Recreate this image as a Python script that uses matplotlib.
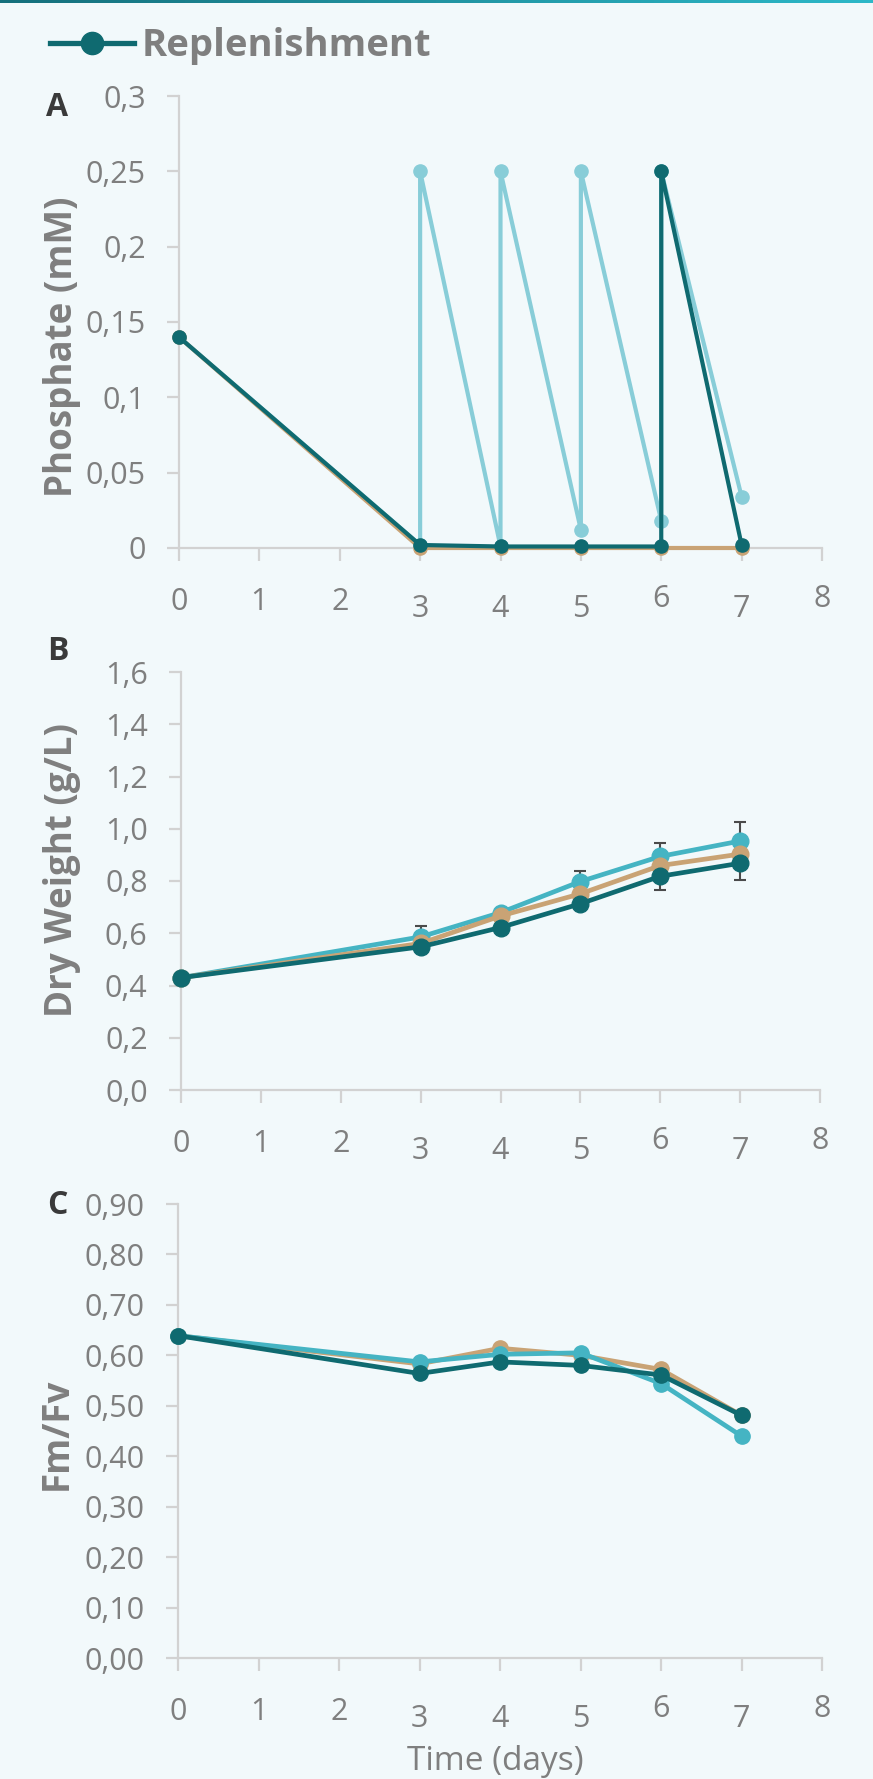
import matplotlib
matplotlib.use("Agg")
import matplotlib.pyplot as plt
import matplotlib.transforms as mtransforms
from matplotlib.lines import Line2D
from matplotlib.colors import LinearSegmentedColormap
import numpy as np

# ---------------- data ----------------
# Panel A: phosphate (mM)
days_a_replen = [0, 3, 4, 5, 6, 6, 7]
phos_replen = [0.14, 0.002, 0.001, 0.001, 0.001, 0.25, 0.002]
days_a_pulse = [0, 3, 3, 4, 4, 5, 5, 6, 6, 7]
phos_pulse = [0.14, 0.002, 0.25, 0.001, 0.25, 0.012, 0.25, 0.018, 0.25, 0.034]
days_a_ctrl = [0, 3, 4, 5, 6, 7]
phos_ctrl = [0.14, 0.0, 0.0, 0.0, 0.0, 0.0]

# Panels B and C share the sampling days
days = [0, 3, 4, 5, 6, 7]
# Panel B: dry weight (g/L)
dw_pulse = [0.43, 0.586, 0.679, 0.798, 0.894, 0.953]
dw_ctrl = [0.43, 0.561, 0.666, 0.751, 0.859, 0.903]
dw_replen = [0.43, 0.548, 0.622, 0.713, 0.818, 0.868]
dw_pulse_err = [0.0, 0.040, 0.010, 0.040, 0.050, 0.074]
dw_ctrl_err = [0.0, 0.020, 0.010, 0.020, 0.030, 0.030]
dw_replen_err = [0.0, 0.020, 0.010, 0.010, 0.054, 0.065]
# Panel C: Fm/Fv
fv_pulse = [0.639, 0.587, 0.602, 0.605, 0.544, 0.440]
fv_ctrl = [0.639, 0.583, 0.614, 0.600, 0.572, 0.481]
fv_replen = [0.639, 0.564, 0.587, 0.580, 0.561, 0.481]

x_ticks = [0, 1, 2, 3, 4, 5, 6, 7, 8]
x_ticklabels = ["0", "1", "2", "3", "4", "5", "6", "7", "8"]
a_yticks = [0, 0.05, 0.1, 0.15, 0.2, 0.25, 0.3]
a_yticklabels = ["0", "0,05", "0,1", "0,15", "0,2", "0,25", "0,3"]
b_yticks = [0, 0.2, 0.4, 0.6, 0.8, 1.0, 1.2, 1.4, 1.6]
b_yticklabels = ["0,0", "0,2", "0,4", "0,6", "0,8", "1,0", "1,2", "1,4", "1,6"]
c_yticks = [0, 0.1, 0.2, 0.3, 0.4, 0.5, 0.6, 0.7, 0.8, 0.9]
c_yticklabels = ["0,00", "0,10", "0,20", "0,30", "0,40", "0,50", "0,60", "0,70", "0,80", "0,90"]

legend_label = "Replenishment"
ylabels = ["Phosphate (mM)", "Dry Weight (g/L)", "Fm/Fv"]
panel_letters = ["A", "B", "C"]
xlabel = "Time (days)"

# ---------------- style ----------------
BG = "#F2F9FB"
DARK = "#0F6A70"
LIGHT_A = "#88CDD8"
CYAN = "#45B4C3"
TAN = "#C9A375"
GRID = "#D2D2D2"
TXT = "#7F7F7F"
FONT = ["Open Sans", "DejaVu Sans"]
plt.rcParams["font.family"] = FONT

W, H = 873, 1779
fig = plt.figure(figsize=(W / 100, H / 100), dpi=100, facecolor=BG)


def px_rect(left, right, top, bottom):
    return [left / W, 1 - bottom / H, (right - left) / W, (bottom - top) / H]


def style_axes(ax, yticks, yticklabels, ylim):
    ax.set_facecolor(BG)
    for s in ("top", "right"):
        ax.spines[s].set_visible(False)
    for s in ("left", "bottom"):
        ax.spines[s].set_color(GRID)
        ax.spines[s].set_linewidth(1.6)
    ax.set_xlim(0, 8)
    ax.set_ylim(*ylim)
    ax.set_xticks(x_ticks, x_ticklabels)
    ax.set_yticks(yticks, yticklabels)
    ax.tick_params(axis="both", direction="out", length=9, width=1.6,
                   color=GRID, labelcolor=TXT, labelsize=22)
    ax.tick_params(axis="y", pad=15)
    ax.tick_params(axis="x", pad=19)
    # mimic old-style figures: descending / ascending digits
    for lab in ax.get_xticklabels():
        t = lab.get_text()
        dy = 0.0
        if t in ("3", "4", "5", "7"):
            dy = -0.07
        elif t in ("6", "8"):
            dy = 0.025
        if dy:
            lab.set_transform(lab.get_transform() +
                              mtransforms.ScaledTranslation(0, dy, fig.dpi_scale_trans))


# ---------------- panel A ----------------
axA = fig.add_axes(px_rect(179, 822, 96, 548))
style_axes(axA, a_yticks, a_yticklabels, (0, 0.3))
axA.plot(days_a_pulse, phos_pulse, color=LIGHT_A, lw=3.0, marker="o", ms=9.5,
         clip_on=False, zorder=3)
axA.plot(days_a_ctrl, phos_ctrl, color=TAN, lw=3.0, marker="o", ms=9.5,
         clip_on=False, zorder=4)
axA.plot(days_a_replen, phos_replen, color=DARK, lw=3.0, marker="o", ms=9.5,
         clip_on=False, zorder=5)

# ---------------- panel B ----------------
axB = fig.add_axes(px_rect(181, 820, 672, 1090))
style_axes(axB, b_yticks, b_yticklabels, (0, 1.6))
for vals, err in ((dw_pulse, dw_pulse_err), (dw_ctrl, dw_ctrl_err), (dw_replen, dw_replen_err)):
    axB.errorbar(days, vals, yerr=err, fmt="none", ecolor="#4A4A4A",
                 elinewidth=1.5, capsize=4.5, capthick=1.5, zorder=2, clip_on=False)
axB.plot(days, dw_pulse, color=CYAN, lw=3.4, marker="o", ms=12, clip_on=False, zorder=3)
axB.plot(days, dw_ctrl, color=TAN, lw=3.4, marker="o", ms=12, clip_on=False, zorder=4)
axB.plot(days, dw_replen, color=DARK, lw=3.4, marker="o", ms=12, clip_on=False, zorder=5)

# ---------------- panel C ----------------
axC = fig.add_axes(px_rect(178, 822, 1204, 1658))
style_axes(axC, c_yticks, c_yticklabels, (0, 0.9))
axC.plot(days, fv_ctrl, color=TAN, lw=3.4, marker="o", ms=11, clip_on=False, zorder=3)
axC.plot(days, fv_pulse, color=CYAN, lw=3.4, marker="o", ms=11, clip_on=False, zorder=4)
axC.plot(days, fv_replen, color=DARK, lw=3.4, marker="o", ms=11, clip_on=False, zorder=5)
axC.set_xlabel(xlabel, fontsize=24, color=TXT, va="center")
axC.xaxis.set_label_coords((495 - 178) / 644, (1658 - 1762) / 454)

# ---------------- labels ----------------
for text, (cx, cy) in zip(ylabels, [(62, 347), (62, 870), (57, 1434)]):
    fig.text(cx / W, 1 - cy / H, text, rotation=90, ha="center", va="center",
             rotation_mode="anchor", fontsize=26.5, fontweight="bold", color=TXT)
for text, (cx, cy) in zip(panel_letters, [(57, 107), (58, 651), (57, 1206)]):
    fig.text(cx / W, 1 - cy / H, text, ha="center", va="center",
             fontsize=23, fontweight="bold", color="#3A3A3A")

# legend (only the replenishment entry is shown)
handle = Line2D([], [], color=DARK, lw=3.8, marker="o", ms=16)
fig.legend([handle], [legend_label], loc="center left",
           bbox_to_anchor=(50 / W, 1 - 46 / H), frameon=False,
           prop={"family": FONT, "weight": "bold", "size": 27.5},
           labelcolor=TXT, handlelength=2.2, handletextpad=0.2,
           borderpad=0, borderaxespad=0)

# thin gradient rule on the top edge
axTop = fig.add_axes([0, 1 - 3 / H, 1, 3 / H])
cmap = LinearSegmentedColormap.from_list("rule", ["#15707C", "#2DB8C8"])
axTop.imshow(np.linspace(0, 1, 256)[None, :], cmap=cmap, aspect="auto",
             extent=(0, 1, 0, 1))
axTop.axis("off")

fig.savefig("out.png", dpi=100, facecolor=BG)
